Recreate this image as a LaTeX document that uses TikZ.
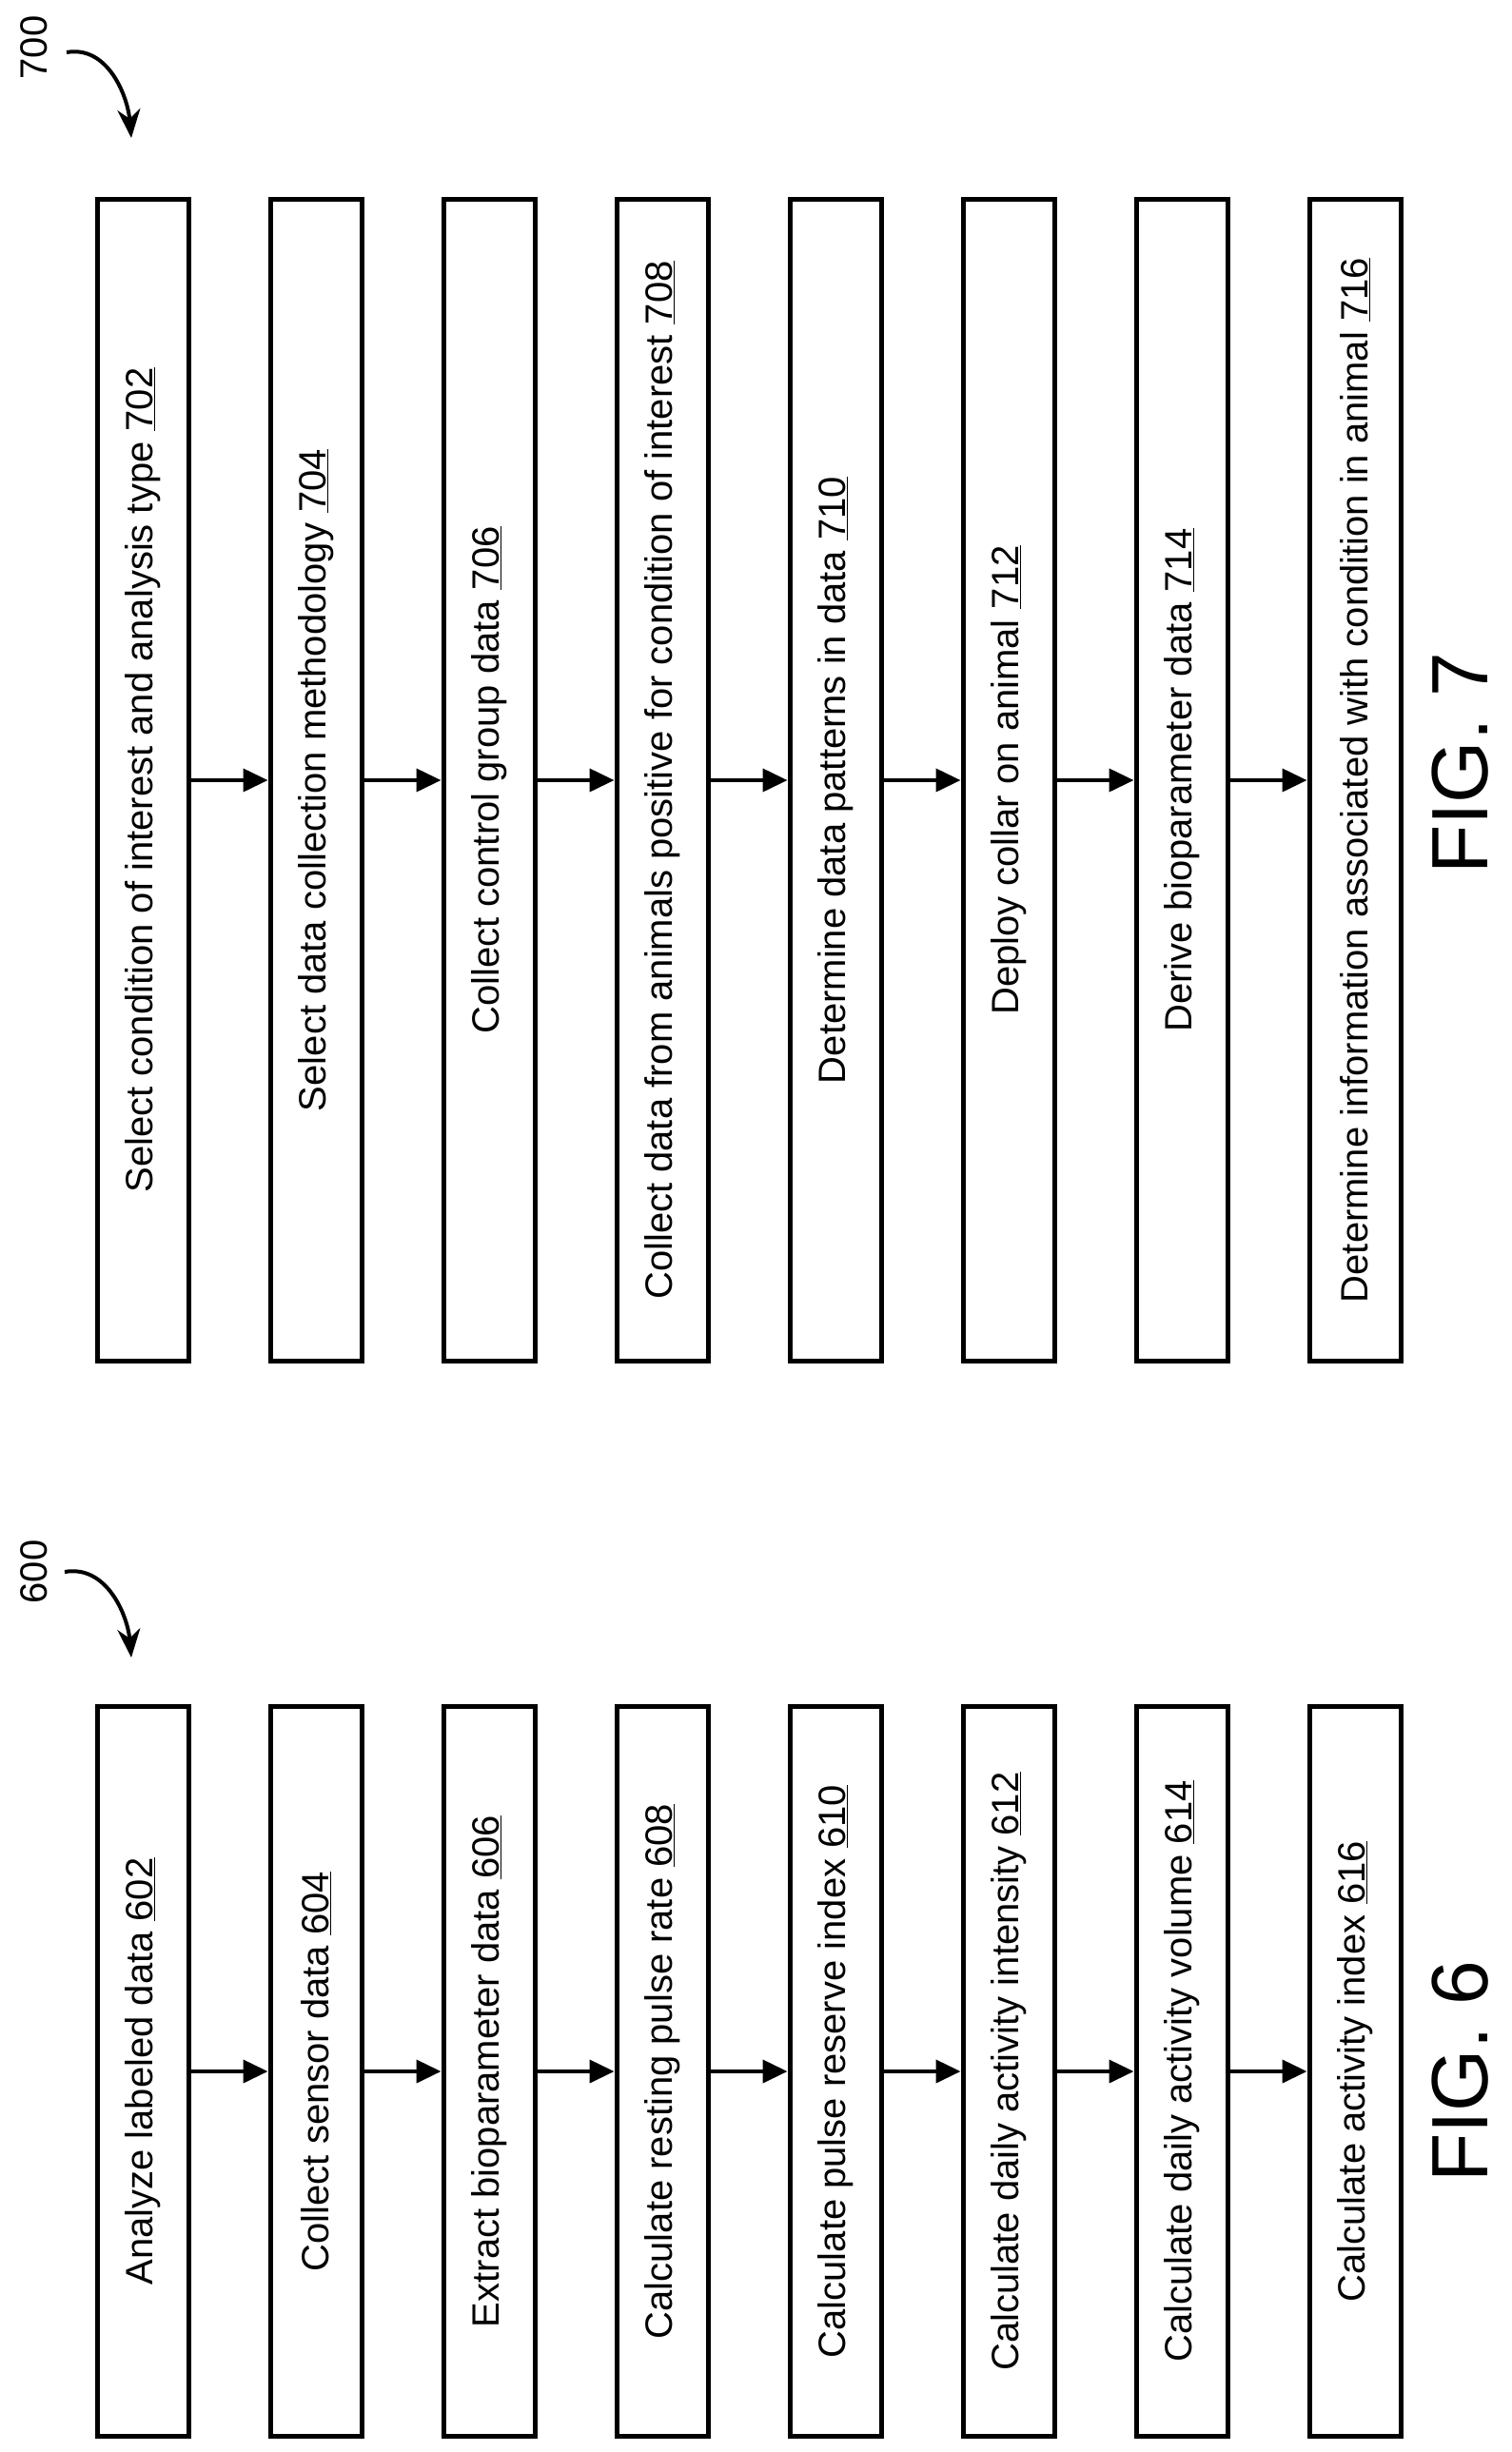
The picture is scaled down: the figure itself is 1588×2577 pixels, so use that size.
\documentclass[tikz,border=0pt]{standalone}
\usepackage{fontspec}
\setmainfont{Liberation Sans}
\usetikzlibrary{arrows.meta}

\tikzset{
  flowstep/.style={draw, line width=5pt, minimum height=96pt, inner sep=0pt,
    rotate=90, font=\fontsize{40}{48}\selectfont},
  longstep/.style={flowstep, minimum width=1221pt},
  shortstep/.style={flowstep, minimum width=767pt},
  flow/.style={line width=4pt, -{Triangle[length=26pt,width=24pt]}},
  refnum/.style={font=\fontsize{40}{48}\selectfont, rotate=90},
  figlabel/.style={font=\fontsize{84}{96}\selectfont, rotate=90}
}

\begin{document}
\begin{tikzpicture}[x=1pt,y=1pt]
  \useasboundingbox (0,0) rectangle (1588,-2577);

  % fig 7
  \node[longstep] (s702) at (150,-820) {Select condition of interest and analysis type \underline{702}};
  \node[longstep] (s704) at (332,-820) {Select data collection methodology \underline{704}};
  \node[longstep] (s706) at (514,-820) {Collect control group data \underline{706}};
  \node[longstep] (s708) at (696,-820) {Collect data from animals positive for condition of interest \underline{708}};
  \node[longstep] (s710) at (878,-820) {Determine data patterns in data \underline{710}};
  \node[longstep] (s712) at (1060,-820) {Deploy collar on animal \underline{712}};
  \node[longstep] (s714) at (1242,-820) {Derive bioparameter data \underline{714}};
  \node[longstep] (s716) at (1424,-820) {Determine information associated with condition in animal \underline{716}};

  \foreach \a/\b in {702/704,704/706,706/708,708/710,710/712,712/714,714/716}
    \draw[flow] (s\a) -- (s\b);

  \node[refnum] (r700) at (36,-50) {700};
  \coordinate (r700e) at (138,-145);
  \draw[line width=4pt,-{Stealth[length=30pt,width=24pt]}] (70,-55) to[out=10,in=95] (r700e);
  \node[figlabel] (fig7) at (1535,-802) {FIG. 7};

  % fig 6
  \node[shortstep] (s602) at (150,-2177) {Analyze labeled data \underline{602}};
  \node[shortstep] (s604) at (332,-2177) {Collect sensor data \underline{604}};
  \node[shortstep] (s606) at (514,-2177) {Extract bioparameter data \underline{606}};
  \node[shortstep] (s608) at (696,-2177) {Calculate resting pulse rate \underline{608}};
  \node[shortstep] (s610) at (878,-2177) {Calculate pulse reserve index \underline{610}};
  \node[shortstep] (s612) at (1060,-2177) {Calculate daily activity intensity \underline{612}};
  \node[shortstep] (s614) at (1242,-2177) {Calculate daily activity volume \underline{614}};
  \node[shortstep] (s616) at (1424,-2177) {Calculate activity index \underline{616}};

  \foreach \a/\b in {602/604,604/606,606/608,608/610,610/612,612/614,614/616}
    \draw[flow] (s\a) -- (s\b);

  \node[refnum] (r600) at (36,-1652) {600};
  \coordinate (r600e) at (138,-1742);
  \draw[line width=4pt,-{Stealth[length=30pt,width=24pt]}] (68,-1652) to[out=10,in=95] (r600e);
  \node[figlabel] (fig6) at (1535,-2177) {FIG. 6};
\end{tikzpicture}
\end{document}
